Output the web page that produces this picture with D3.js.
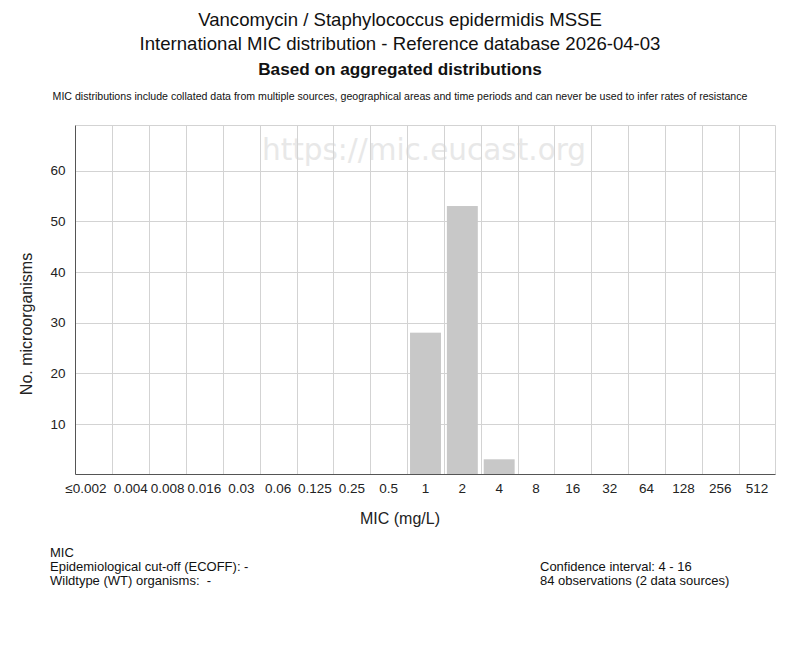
<!DOCTYPE html>
<html><head><meta charset="utf-8">
<script src="https://cdn.jsdelivr.net/npm/d3@7"></script>
<style>body{margin:0;background:#fff}svg{display:block}text{white-space:pre}</style>
</head><body>
<script>
const categories = ["≤0.002","0.004","0.008","0.016","0.03","0.06","0.125","0.25","0.5","1","2","4","8","16","32","64","128","256","512"];
const counts = [0,0,0,0,0,0,0,0,0,28,53,3,0,0,0,0,0,0,0];
const yTicks = [10,20,30,40,50,60];
const titleLines = ["Vancomycin / Staphylococcus epidermidis MSSE","International MIC distribution - Reference database 2026-04-03","Based on aggregated distributions"];
const note = "MIC distributions include collated data from multiple sources, geographical areas and time periods and can never be used to infer rates of resistance";
const leftInfo = ["MIC","Epidemiological cut-off (ECOFF): -","Wildtype (WT) organisms:  -"];
const rightInfo = ["Confidence interval: 4 - 16","84 observations (2 data sources)"];

const W=800,H=650;
const svg=d3.select("body").append("svg").attr("width",W).attr("height",H);
const m={l:75.5,r:775.5,t:125.5,b:474.5};
const x=d3.scaleBand().domain(categories).range([m.l,m.r]).paddingInner(0.16).paddingOuter(0.08);
const xg=d3.scaleBand().domain(categories).range([m.l,m.r]);
const y=d3.scaleLinear().domain([0,68.9]).range([m.b,m.t]);
const sans="'Liberation Sans',Arial,sans-serif";

// watermark
svg.append("text").attr("x",424).attr("y",160).attr("text-anchor","middle")
  .attr("font-family","'DejaVu Sans',sans-serif").attr("font-size",29.5).attr("fill","#e8e8e8").text("https://mic.eucast.org");

// grid
const grid=svg.append("g").attr("stroke","#d3d3d3").attr("stroke-width",1);
categories.forEach((c,i)=>{ if(i>0) grid.append("line").attr("x1",Math.round(xg(c))+0.5).attr("x2",Math.round(xg(c))+0.5).attr("y1",m.t).attr("y2",m.b); });
grid.append("line").attr("x1",m.r).attr("x2",m.r).attr("y1",m.t).attr("y2",m.b);
grid.append("line").attr("x1",m.l).attr("x2",m.r).attr("y1",m.t).attr("y2",m.t);
yTicks.forEach(t=>grid.append("line").attr("x1",m.l).attr("x2",m.r).attr("y1",Math.round(y(t))+0.5).attr("y2",Math.round(y(t))+0.5));

// bars
svg.append("g").selectAll("rect").data(categories.map((c,i)=>({c,v:counts[i]})).filter(d=>d.v>0))
  .join("rect").attr("x",d=>x(d.c)).attr("width",x.bandwidth()).attr("y",d=>y(d.v)).attr("height",d=>y(0)-y(d.v)).attr("fill","#c8c8c8");

// axes lines
svg.append("line").attr("x1",m.l).attr("x2",m.l).attr("y1",m.t).attr("y2",m.b).attr("stroke","#555");
svg.append("line").attr("x1",m.l).attr("x2",m.r).attr("y1",m.b).attr("y2",m.b).attr("stroke","#555");

// y labels
const ya=d3.axisLeft(y).tickValues(yTicks).tickSize(0).tickPadding(10);
const yg=svg.append("g").attr("transform",`translate(${m.l},0)`).call(ya);
yg.select(".domain").remove();
yg.selectAll("text").attr("font-family",sans).attr("font-size",13.5).attr("fill","#222");

// x labels
const xa=d3.axisBottom(xg).tickSize(0).tickPadding(9);
const xgG=svg.append("g").attr("transform",`translate(0,${m.b})`).call(xa);
xgG.select(".domain").remove();
xgG.selectAll("text").attr("font-family",sans).attr("font-size",13.5).attr("fill","#222")
  .attr("dx",(d,i)=>i===0?-8:0);

// axis titles
svg.append("text").attr("x",400).attr("y",524).attr("text-anchor","middle").attr("font-family",sans).attr("font-size",16).attr("fill","#222").text("MIC (mg/L)");
svg.append("text").attr("transform","translate(32,324) rotate(-90)").attr("text-anchor","middle").attr("font-family",sans).attr("font-size",16).attr("fill","#222").text("No. microorganisms");

// titles
const ty=[26,50,75], ts=[18.6,18.6,17.2];
titleLines.forEach((t,i)=>svg.append("text").attr("x",400).attr("y",ty[i]).attr("text-anchor","middle")
  .attr("font-family",sans).attr("font-size",ts[i]).attr("font-weight",i==2?"bold":"normal").attr("fill","#111").text(t));
svg.append("text").attr("x",400).attr("y",100).attr("text-anchor","middle").attr("font-family",sans).attr("font-size",10.6).attr("fill","#111").text(note);

leftInfo.forEach((t,i)=>svg.append("text").attr("x",50).attr("y",557+i*14).attr("font-family",sans).attr("font-size",13).attr("fill","#111").text(t));
rightInfo.forEach((t,i)=>svg.append("text").attr("x",540).attr("y",571+i*14).attr("font-family",sans).attr("font-size",13).attr("fill","#111").text(t));
</script>
</body></html>
